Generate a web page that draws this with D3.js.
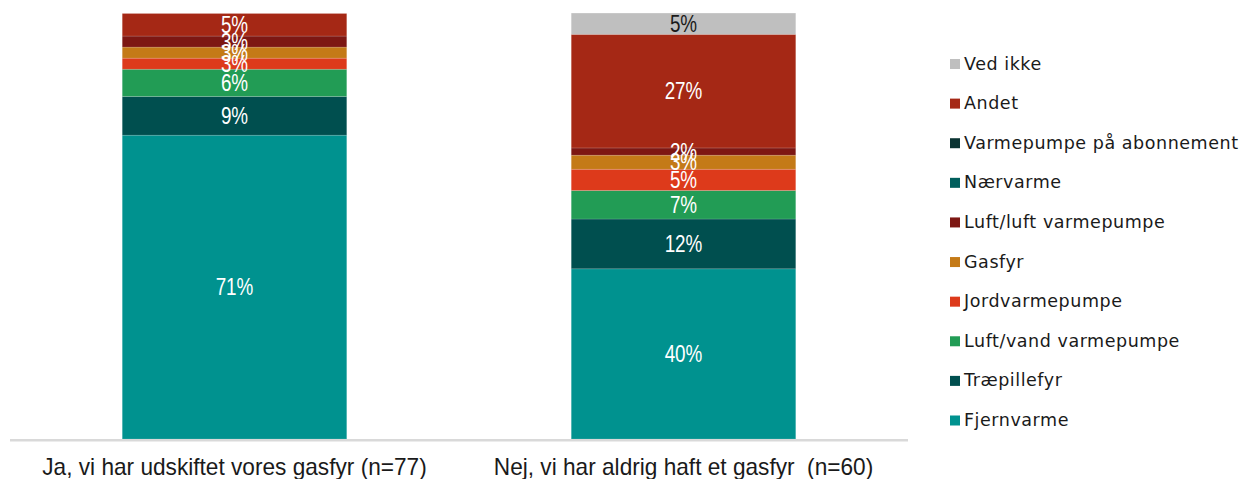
<!DOCTYPE html>
<html>
<head>
<meta charset="utf-8">
<script src="https://cdn.jsdelivr.net/npm/d3@7"></script>
<style>
  html, body { margin: 0; padding: 0; background: #fff; }
  svg { display: block; }
</style>
</head>
<body>
<svg id="chart" width="1242" height="479"></svg>
<script>
// ---- data ----
const categories = [
  "Ja, vi har udskiftet vores gasfyr (n=77)",
  "Nej, vi har aldrig haft et gasfyr  (n=60)"
];
// series in stacking order (bottom to top)
const seriesNames = [
  "Fjernvarme",
  "Træpillefyr",
  "Luft/vand varmepumpe",
  "Jordvarmepumpe",
  "Gasfyr",
  "Luft/luft varmepumpe",
  "Nærvarme",
  "Varmepumpe på abonnement",
  "Andet",
  "Ved ikke"
];
const fjernvarme   = [71.4, 40.0];
const traepillefyr = [9.1, 11.7];
const luftVand     = [6.4, 6.7];
const jordvarme    = [2.6, 5.0];
const gasfyr       = [2.6, 3.3];
const luftLuft     = [2.6, 1.7];
const naervarme    = [0, 0];
const vpAbonnement = [0, 0];
const andet        = [5.3, 26.7];
const vedIkke      = [0, 5.0];
const seriesValues = [fjernvarme, traepillefyr, luftVand, jordvarme, gasfyr,
                      luftLuft, naervarme, vpAbonnement, andet, vedIkke];
const seriesColors = ["#00928f", "#004f4f", "#229c55", "#dd3a1b", "#c47a17",
                      "#7d1713", "#005e5c", "#0b3433", "#a52815", "#bfbfbf"];
const labelColors  = ["#fff", "#fff", "#fff", "#fff", "#fff",
                      "#fff", "#fff", "#fff", "#fff", "#1a1a1a"];

// ---- build table ----
const table = categories.map((c, i) => {
  const row = { category: c };
  seriesNames.forEach((s, j) => { row[s] = seriesValues[j][i]; });
  return row;
});
const stacked = d3.stack().keys(seriesNames)(table);

const svg = d3.select("#chart");
const margin = { left: 10, right: 334, top: 13.5, bottom: 40 };
const W = 1242, H = 479;

const x = d3.scaleBand()
  .domain(categories)
  .range([margin.left, W - margin.right])
  .paddingInner(0.5)
  .paddingOuter(0.25);

const y = d3.scaleLinear()
  .domain([0, 100])
  .range([H - margin.bottom, margin.top]);

const color = d3.scaleOrdinal().domain(seriesNames).range(seriesColors);

// bars
const layers = svg.append("g").selectAll("g")
  .data(stacked)
  .join("g")
  .attr("fill", d => color(d.key));

layers.selectAll("rect")
  .data(d => d.map(p => ({ key: d.key, p })))
  .join("rect")
  .attr("x", d => x(d.p.data.category))
  .attr("width", x.bandwidth())
  .attr("y", d => y(d.p[1]))
  .attr("height", d => Math.max(0, y(d.p[0]) - y(d.p[1])))
  .attr("stroke", "#ffffff")
  .attr("stroke-opacity", 0.18)
  .attr("stroke-width", 0.8);

// axis line
const xAxis = svg.append("g")
  .attr("transform", `translate(0,${y(0) + 1.2})`)
  .call(d3.axisBottom(x).tickSize(0).tickPadding(18));
xAxis.select(".domain")
  .attr("stroke", "#d9d9d9")
  .attr("stroke-width", 2.5)
  .attr("d", `M${margin.left},0H${W - margin.right}`);
xAxis.selectAll(".tick text")
  .attr("font-family", "Liberation Sans, Arial, sans-serif")
  .attr("font-size", 23)
  .attr("fill", "#1a1a1a")
  .style("white-space", "pre")
  .attr("dy", "0.71em")
  .attr("text-anchor", "middle")
  .attr("transform", "scale(0.985,1)");

// data labels
const labelG = svg.append("g");
stacked.forEach((layer, j) => {
  layer.forEach(p => {
    const v = p[1] - p[0];
    if (v <= 0) return;
    const cx = x(p.data.category) + x.bandwidth() / 2;
    const cy = (y(p[0]) + y(p[1])) / 2;
    labelG.append("text")
      .attr("transform", `translate(${cx},${cy}) scale(0.82,1)`)
      .attr("text-anchor", "middle")
      .attr("dominant-baseline", "central")
      .attr("font-family", "Liberation Sans, Arial, sans-serif")
      .attr("font-size", 23)
      .attr("fill", labelColors[j])
      .text(Math.round(v) + "%");
  });
});

// legend (reverse order: top = last series)
const legendItems = seriesNames.slice().reverse();
const legendY = d3.scalePoint()
  .domain(legendItems)
  .range([63.5, 420]);
const legend = svg.append("g");
const li = legend.selectAll("g")
  .data(legendItems)
  .join("g")
  .attr("transform", d => `translate(950,${legendY(d)})`);
li.append("rect")
  .attr("x", 0).attr("y", -4.5)
  .attr("width", 10).attr("height", 10)
  .attr("fill", d => color(d));
li.append("text")
  .attr("x", 14)
  .attr("y", 0)
  .attr("dominant-baseline", "central")
  .attr("font-family", "DejaVu Sans, sans-serif")
  .attr("font-size", 17.5)
  .attr("letter-spacing", 0.55)
  .attr("fill", "#1a1a1a")
  .text(d => d);
</script>
</body>
</html>
